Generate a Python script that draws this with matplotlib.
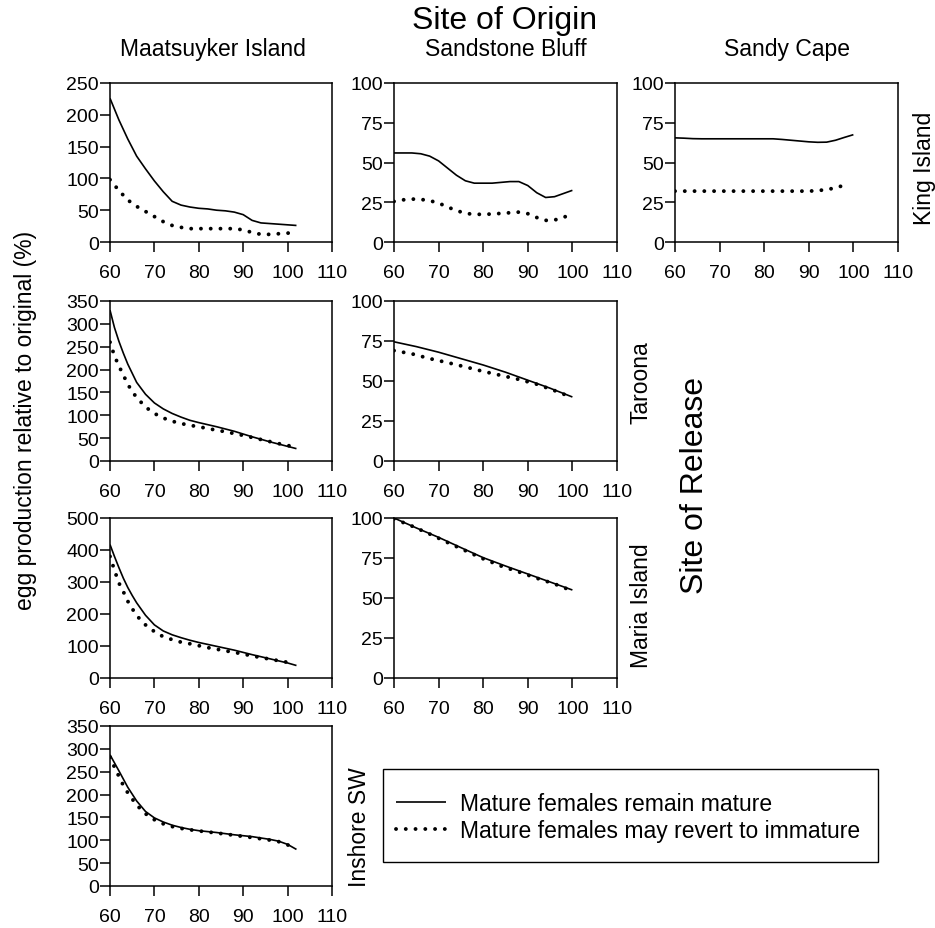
import matplotlib
matplotlib.use("Agg")
import matplotlib.pyplot as plt
from matplotlib.lines import Line2D
from matplotlib.patches import Rectangle

plt.rcParams['font.family'] = ['Liberation Sans', 'DejaVu Sans']

# ---------------- data ----------------
origins = ["Maatsuyker Island", "Sandstone Bluff", "Sandy Cape"]
releases = ["King Island", "Taroona", "Maria Island", "Inshore SW"]
series_labels = ["Mature females remain mature", "Mature females may revert to immature"]

# King Island / Maatsuyker Island
ki_ma_x_solid = [60, 62, 64, 66, 68, 70, 72, 74, 76, 78, 80, 82, 84, 86, 88, 90, 92, 94, 96, 98, 100, 102]
ki_ma_solid = [226, 192, 162, 135, 115, 96, 79, 64, 58, 55, 53, 52, 50, 49, 47, 43, 34, 30, 29, 28, 27, 26]
ki_ma_x_dot = [60, 62, 64, 66, 68, 70, 72, 74, 76, 78, 80, 82, 84, 86, 88, 90, 92, 94, 96, 98, 100, 101]
ki_ma_dot = [98, 81, 66, 56, 48, 40, 32, 26, 23, 21, 21, 21, 21, 21, 21, 19, 15, 12, 12, 13, 14, 14]

# King Island / Sandstone Bluff
ki_sb_x_solid = [60, 62, 64, 66, 68, 70, 72, 74, 76, 78, 80, 82, 84, 86, 88, 90, 92, 94, 96, 98, 100]
ki_sb_solid = [56, 56, 56, 55.5, 54, 51, 46.5, 42, 38.5, 37, 37, 37, 37.5, 38, 38, 35.5, 31, 28, 28.5, 30.5, 32.5]
ki_sb_x_dot = [60, 62, 64, 66, 68, 70, 72, 74, 76, 78, 80, 82, 84, 86, 88, 90, 92, 94, 96, 98, 99.5]
ki_sb_dot = [25.5, 26.5, 27, 26.8, 26, 24.5, 22, 19.8, 18, 17.4, 17.4, 17.6, 18, 18.4, 18.8, 17.8, 15.4, 13.6, 13.8, 15.6, 16.8]

# King Island / Sandy Cape
ki_sc_x_solid = [60, 62, 64, 66, 70, 75, 80, 82, 84, 86, 88, 90, 92, 94, 96, 98, 100]
ki_sc_solid = [65.5, 65.3, 65, 64.9, 64.9, 64.9, 64.9, 64.9, 64.5, 64, 63.5, 63, 62.7, 62.8, 64, 65.8, 67.5]
ki_sc_x_dot = [60, 65, 70, 75, 80, 85, 90, 92, 94, 96, 98, 99]
ki_sc_dot = [32, 32, 32, 32, 32, 32, 32, 32.3, 33, 34, 35.8, 37.5]

# Taroona / Maatsuyker Island
ta_ma_x_solid = [60, 61, 62, 63, 64, 66, 68, 70, 72, 74, 76, 78, 80, 84, 88, 92, 96, 100, 102]
ta_ma_solid = [330, 292, 262, 236, 212, 172, 146, 127, 114, 104, 96, 89, 84, 75, 65, 53, 42, 32, 27]
ta_ma_x_dot = [60, 61, 62, 63, 64, 65, 66, 68, 70, 72, 74, 76, 78, 80, 82, 84, 86, 88, 90, 92, 94, 96, 98, 100, 101]
ta_ma_dot = [260, 230, 208, 188, 168, 152, 139, 118, 104, 94, 87, 82, 78, 75, 71, 67.5, 64, 60, 56, 51.5, 47, 42.5, 38, 34, 32]

# Taroona / Sandstone Bluff
ta_sb_x_solid = [60, 65, 70, 75, 80, 85, 90, 95, 100]
ta_sb_solid = [74.5, 71.5, 68, 64, 60, 55.5, 50.5, 45.5, 40]
ta_sb_x_dot = [60, 64, 68, 72, 76, 80, 84, 88, 92, 96, 99.5]
ta_sb_dot = [69, 67, 64, 61.5, 58.8, 56, 53.5, 51, 48, 44, 40.2]

# Maria Island / Maatsuyker Island
mi_ma_x_solid = [60, 61, 62, 63, 64, 65, 66, 68, 70, 72, 74, 76, 78, 80, 84, 88, 92, 96, 100, 102]
mi_ma_solid = [417, 380, 345, 312, 283, 258, 235, 196, 166, 147, 135, 126, 118, 111, 99, 87, 73, 60, 47, 39]
mi_ma_x_dot = [60, 61, 62, 63, 64, 65, 66, 68, 70, 72, 74, 76, 78, 80, 82, 84, 86, 88, 90, 92, 94, 96, 98, 100, 101]
mi_ma_dot = [380, 337, 297, 270, 240, 217, 195, 166, 145, 129, 120, 112, 107, 101, 95, 90, 85, 80, 75, 69, 64, 59, 54, 49, 47]

# Maria Island / Sandstone Bluff
mi_sb_x_solid = [60, 65, 70, 75, 80, 85, 90, 95, 100]
mi_sb_solid = [100, 93.8, 87.9, 81.5, 75.2, 70, 65, 60, 55]
mi_sb_x_dot = [60, 64, 68, 72, 76, 80, 84, 88, 92, 96, 99]
mi_sb_dot = [99.5, 95, 90, 84.7, 79.6, 74.5, 70, 66.3, 62.4, 58.8, 55.5]

# Inshore SW / Maatsuyker Island
is_ma_x_solid = [60, 62, 64, 66, 68, 70, 72, 74, 76, 78, 80, 84, 88, 92, 96, 98, 100, 102]
is_ma_solid = [287, 252, 216, 186, 163, 149, 140, 133, 128, 124, 121, 117, 112, 108, 102, 98, 91, 80]
is_ma_x_dot = [60, 61, 62, 63, 64, 66, 68, 70, 72, 74, 76, 78, 80, 84, 88, 92, 96, 98, 100, 101]
is_ma_dot = [282, 260, 240, 220, 204, 177, 158, 145, 136, 130, 126, 123, 120.5, 116, 111, 106, 100.5, 97, 90, 86]

x_ticks = [60, 70, 80, 90, 100, 110]
y_ticks_ki_ma = [0, 50, 100, 150, 200, 250]
y_ticks_pct100 = [0, 25, 50, 75, 100]
y_ticks_ta_ma = [0, 50, 100, 150, 200, 250, 300, 350]
y_ticks_mi_ma = [0, 100, 200, 300, 400, 500]
y_ticks_is_ma = [0, 50, 100, 150, 200, 250, 300, 350]

# ---------------- layout ----------------
W, H = 935, 929
fig = plt.figure(figsize=(W / 100, H / 100), dpi=100)

col_x = [(110, 332), (394, 617), (675, 898)]
row_y = [(84, 243), (302, 462), (519, 679), (727, 887)]


def make_ax(r, c):
    x0, x1 = col_x[c]
    y0, y1 = row_y[r]
    return fig.add_axes([x0 / W, 1 - y1 / H, (x1 - x0) / W, (y1 - y0) / H])


solid_kw = dict(color='black', lw=1.2, solid_capstyle='butt')
dot_kw = dict(color='black', lw=2.8, linestyle=(0, (0.01, 2.5)), dash_capstyle='round')

panels = [
    (0, 0, ki_ma_x_solid, ki_ma_solid, ki_ma_x_dot, ki_ma_dot, y_ticks_ki_ma),
    (0, 1, ki_sb_x_solid, ki_sb_solid, ki_sb_x_dot, ki_sb_dot, y_ticks_pct100),
    (0, 2, ki_sc_x_solid, ki_sc_solid, ki_sc_x_dot, ki_sc_dot, y_ticks_pct100),
    (1, 0, ta_ma_x_solid, ta_ma_solid, ta_ma_x_dot, ta_ma_dot, y_ticks_ta_ma),
    (1, 1, ta_sb_x_solid, ta_sb_solid, ta_sb_x_dot, ta_sb_dot, y_ticks_pct100),
    (2, 0, mi_ma_x_solid, mi_ma_solid, mi_ma_x_dot, mi_ma_dot, y_ticks_mi_ma),
    (2, 1, mi_sb_x_solid, mi_sb_solid, mi_sb_x_dot, mi_sb_dot, y_ticks_pct100),
    (3, 0, is_ma_x_solid, is_ma_solid, is_ma_x_dot, is_ma_dot, y_ticks_is_ma),
]

for r, c, xs, ys, xd, yd, yt in panels:
    ax = make_ax(r, c)
    ax.plot(xs, ys, **solid_kw)
    ax.plot(xd, yd, **dot_kw)
    ax.set_xlim(x_ticks[0], x_ticks[-1])
    ax.set_ylim(yt[0], yt[-1])
    ax.set_xticks(x_ticks)
    ax.set_yticks(yt)
    for s in ax.spines.values():
        s.set_linewidth(1.1)
        s.set_color('black')
    ax.tick_params(axis='both', direction='out', length=7, width=1.1,
                   labelsize=14, colors='black')
    ax.tick_params(axis='x', pad=9)
    ax.tick_params(axis='y', pad=1)
    if r == 0:
        ax.set_title(origins[c], fontsize=16.5, pad=20, x=0.465 if c == 0 else 0.5)

# ---------------- overall labels ----------------
fig.text(505 / W, 1 - 29 / H, "Site of Origin", fontsize=23, ha='center', va='baseline')
fig.text(26 / W, 1 - 420 / H, "egg production relative to original (%)", fontsize=16.5,
         rotation=90, ha='center', va='center')
fig.text(695 / W, 1 - 485 / H, "Site of Release", fontsize=23, rotation=90,
         ha='center', va='center')

row_label_pos = [(924, 168), (641, 383), (642, 606), (359, 827)]
for name, (px, py) in zip(releases, row_label_pos):
    fig.text(px / W, 1 - py / H, name, fontsize=16.5, rotation=90, ha='center', va='center')

# ---------------- legend ----------------
handles = [Line2D([], [], **solid_kw), Line2D([], [], **dot_kw)]
fig.legend(handles, series_labels, loc='center left',
           bbox_to_anchor=(396 / W, 1 - 818 / H), frameon=False, fontsize=16.5,
           handlelength=2.2, handletextpad=0.6, labelspacing=0.2, borderpad=0,
           borderaxespad=0)
fig.patches.append(Rectangle((383 / W, 1 - 863 / H), (878 - 383) / W, (863 - 770) / H,
                             transform=fig.transFigure, fill=False, edgecolor='black',
                             lw=1.0))

fig.savefig("out.png", dpi=100, facecolor='white')
